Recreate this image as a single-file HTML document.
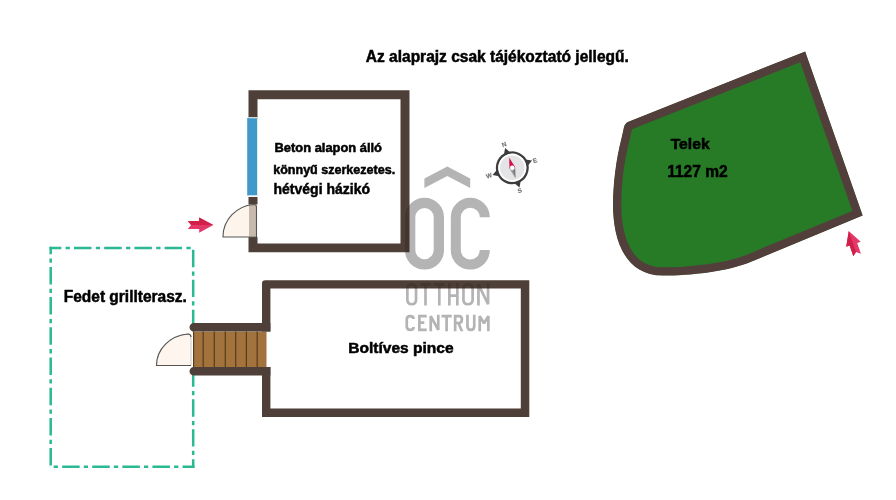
<!DOCTYPE html>
<html><head><meta charset="utf-8">
<style>
html,body{margin:0;padding:0;background:#fff;width:896px;height:500px;overflow:hidden}
svg{display:block;will-change:transform}
text{font-family:"Liberation Sans",sans-serif;font-weight:bold;fill:#000;stroke:#000;stroke-width:0.5px}
</style></head>
<body>
<svg width="896" height="500" viewBox="0 0 896 500">
<defs>
<clipPath id="telekclip"><path id="telekp" d="M621.8,137 L624,127 Q625.2,122.9 629,121.5 L805.2,51.4 L862.7,215.5 L750.6,262 C727.4,271.6 690.2,275.6 662.9,275.6 C623.1,275.6 613,236.4 613,205 C613,185 615.8,160 621.8,137 Z"/></clipPath>
</defs>

<!-- title -->
<text x="365.8" y="62.2" font-size="16" textLength="263" lengthAdjust="spacingAndGlyphs">Az alaprajz csak tájékoztató jellegű.</text>

<g opacity="0.17" fill="none" stroke="#000">
<polygon points="424.4,187.9 424.4,178.5 447.3,166.5 470.2,178.5 470.2,187.9 447.3,176" fill="#000" stroke="none"/>
<rect x="410.15" y="202.95" width="28.7" height="61.5" rx="14.35" stroke-width="10.3"/>
<path d="M484.8,217.3 A14.5,14.5 0 0 0 455.8,217.3 V250.1 A14.5,14.5 0 0 0 484.8,250.1" stroke-width="10"/>
<g stroke-width="2.7" stroke-miterlimit="1.5">
<path d="M407.35,289 C407.35,285.9 409,284.35 411.7,284.35 C414.4,284.35 416.05,285.9 416.05,289 V299.8 C416.05,302.9 414.4,304.25 411.7,304.25 C409,304.25 407.35,302.9 407.35,299.8 Z"/>
<path d="M420.5,284.35 H430.5 M425.5,284.35 V305.6"/>
<path d="M434.3,284.35 H444.3 M439.3,284.35 V305.6"/>
<path d="M449.35,283 V305.6 M457.35,283 V305.6 M449.35,295.6 H457.35"/>
<path d="M463.45,289 C463.45,285.9 465.1,284.35 467.8,284.35 C470.5,284.35 472.65,285.9 472.65,289 V299.8 C472.65,302.9 470.5,304.25 467.8,304.25 C465.1,304.25 463.45,302.9 463.45,299.8 Z"/>
<path d="M478.45,305.6 V284.35 L488.05,304.25 V283"/>
<path d="M413.6,319 C413.6,317 412,316.1 410.2,316.1 C408.3,316.1 406.75,317.3 406.75,319.8 V326.2 C406.75,328.7 408.3,329.95 410.2,329.95 C412,329.95 413.6,329 413.6,327"/>
<path d="M426.7,316.1 H419.35 V329.95 H426.7 M419.35,322.7 H424.3"/>
<path d="M430.75,331.3 V316.1 L438.25,329.95 V314.75"/>
<path d="M441.5,316.1 H451.7 M446.6,316.1 V331.3"/>
<path d="M455.15,331.3 V316.1 H459 C461.2,316.1 461.9,317.6 461.9,319.6 C461.9,321.6 461,323 459,323 H455.15"/>
<polygon points="457.2,323.5 460.1,323.5 463.4,331.3 460.5,331.3" fill="#000" stroke="none"/>
<path d="M467.45,314.75 V326 C467.45,328.6 468.8,329.95 470.85,329.95 C472.9,329.95 474.25,328.6 474.25,326 V314.75"/>
<path d="M479.75,331.3 V316.1 L484.05,323.3 L488.35,316.1 V331.3"/>
</g>
</g>

<!-- house walls -->
<path fill="#4e4038" d="M248.5,90.2 H409.5 V252.3 H248.5 V237 H257.5 V243.5 H400.5 V99.2 H257.5 V118.2 H248.5 Z M248.5,196.8 H257.5 V204.4 H248.5 Z"/>
<!-- window -->
<rect x="247.2" y="118" width="10" height="77.5" fill="#4099c9"/>
<!-- door house -->
<rect x="248.5" y="195.6" width="9" height="1.2" fill="#fff"/>
<rect x="248.5" y="117.2" width="9" height="1" fill="#fff"/>
<path d="M256.5,237 L223,237 A33.5,32.5 0 0 1 253.5,204.5 Q256.5,204.6 256.5,207 Z" fill="#fdf4ec"/>
<rect x="249" y="205" width="7.5" height="31.5" fill="#c8b9ad"/>
<path d="M256.5,237 L223,237 A33.5,32.5 0 0 1 253.5,204.5 Q256.5,204.6 256.5,207 Z" fill="none" stroke="#555" stroke-width="1.1"/>
<!-- arrow left -->
<g id="arr">
<polygon points="187.8,221.1 199.2,221.1 199.2,217.5 213.3,225 199.2,232.8 199.2,229.1 187.8,229.1 191.1,225" fill="#e3386a"/>
<polygon points="187.8,221.1 199.2,221.1 199.2,217.5 213.3,225 191.1,225" fill="#d21f4a"/>
</g>

<!-- telek -->
<path d="M621.8,137 L624,127 Q625.2,122.9 629,121.5 L805.2,51.4 L862.7,215.5 L750.6,262 C727.4,271.6 690.2,275.6 662.9,275.6 C623.1,275.6 613,236.4 613,205 C613,185 615.8,160 621.8,137 Z" fill="#287b26" stroke="#523f3b" stroke-width="16.5" clip-path="url(#telekclip)"/>
<text x="670.7" y="148.6" font-size="15.3" textLength="39" lengthAdjust="spacingAndGlyphs">Telek</text>
<text x="667.2" y="177.3" font-size="16" textLength="60.5" lengthAdjust="spacingAndGlyphs">1127 m2</text>
<!-- arrow right (rotated) -->
<g transform="translate(852.9,243) rotate(-109) translate(-200.5,-225)">
<polygon points="187.8,221.1 199.2,221.1 199.2,217.5 213.3,225 199.2,232.8 199.2,229.1 187.8,229.1 191.1,225" fill="#e3386a"/>
<polygon points="187.8,221.1 199.2,221.1 199.2,217.5 213.3,225 191.1,225" fill="#d21f4a"/>
</g>

<!-- terrace dashed -->
<g stroke="#2bb993" stroke-width="2.5" fill="none">
<line x1="49.45" y1="248" x2="194.45" y2="248" stroke-dasharray="17.5 4.3 4.3 4.1" stroke-dashoffset="5.65"/>
<line x1="193.2" y1="246.75" x2="193.2" y2="467.95" stroke-dasharray="17.3 4.3 4.2 4.1" stroke-dashoffset="26.8"/>
<line x1="50.7" y1="246.75" x2="50.7" y2="467.95" stroke-dasharray="17.5 4.3 4.3 4.1" stroke-dashoffset="10.05"/>
<line x1="49.45" y1="466.7" x2="194.45" y2="466.7" stroke-dasharray="17.5 4.1 4.3 4.2" stroke-dashoffset="17.4"/>
</g>

<!-- stairs -->
<rect x="190.8" y="331.6" width="2.4" height="35.5" fill="#fff"/>
<rect x="193" y="331.6" width="73.5" height="35.5" fill="#a3733d"/>
<g stroke="#5b3b1a" stroke-width="1.2">
<line x1="193.6" y1="331.6" x2="193.6" y2="367"/>
<line x1="203.2" y1="331.6" x2="203.2" y2="367"/>
<line x1="214.3" y1="331.6" x2="214.3" y2="367"/>
<line x1="225.3" y1="331.6" x2="225.3" y2="367"/>
<line x1="235.7" y1="331.6" x2="235.7" y2="367"/>
<line x1="246.4" y1="331.6" x2="246.4" y2="367"/>
<line x1="257.2" y1="331.6" x2="257.2" y2="367"/>
</g>
<g fill="#4e4038">
<path d="M193.8,323 H270.4 V331.6 H193.8 A4.3,4.3 0 0 1 193.8,323 Z M193.8,367 H270.4 V375.6 H193.8 A4.3,4.3 0 0 1 193.8,367 Z"/>
</g>
<!-- pince walls -->
<g fill="#4e4038">
<path d="M262,331.6 L262,283.5 Q262,280.2 265.3,280.2 L529.3,280.2 L529.3,417 L262,417 L262,367 L270.4,367 L270.4,408.5 L520.8,408.5 L520.8,288.5 L270.4,288.5 L270.4,331.6 Z"/>
</g>
<!-- door terrace -->
<path d="M191,365.5 L156.5,365.5 A34.5,31.5 0 0 1 188,334 Q191,334.2 191,337 Z" fill="#fdf5ee" stroke="#c8c8c8" stroke-width="1"/>
<path d="M191,365.5 L156.5,365.5 A34.5,31.5 0 0 1 188,334 Q191,334.2 191,337" fill="none" stroke="#555" stroke-width="1.1"/>

<text x="274.5" y="152.2" font-size="12.3" textLength="107.5" lengthAdjust="spacingAndGlyphs">Beton alapon álló</text>
<text x="273.2" y="173.5" font-size="12.3" textLength="122" lengthAdjust="spacingAndGlyphs">könnyű szerkezetes.</text>
<text x="273.5" y="193.7" font-size="14.3" textLength="96.5" lengthAdjust="spacingAndGlyphs">hétvégi házikó</text>
<text x="63.8" y="302.3" font-size="16" textLength="123" lengthAdjust="spacingAndGlyphs">Fedet grillterasz.</text>
<text x="348.3" y="352.7" font-size="15" textLength="105.3" lengthAdjust="spacingAndGlyphs">Boltíves pince</text>

<!-- compass -->
<g transform="translate(512.3,167.8) rotate(-20)">
<circle r="15.3" fill="#e4e4e6" stroke="#3d3d3d" stroke-width="2.3"/>
<circle r="13.1" fill="none" stroke="#fff" stroke-width="1.6"/>
<polygon points="-3.5,-15 0,-21 3.5,-15" fill="#3b3b3b"/>
<polygon points="-3.5,15 0,21 3.5,15" fill="#3b3b3b"/>
<polygon points="15,-3.5 21,0 15,3.5" fill="#3b3b3b"/>
<polygon points="-15,-3.5 -21,0 -15,3.5" fill="#3b3b3b"/>
</g>
<g transform="translate(512.3,167.8) rotate(-17)">
<polygon points="0,-10.8 -2.9,0 2.9,0" fill="#d0104a"/>
<polygon points="0,10.8 -2.9,0 2.9,0" fill="#999"/>
<polygon points="0,10.8 0,0 2.9,0" fill="#7a7a7a"/>
<circle r="2.3" fill="#fff"/>
</g>
<g style="stroke:none;fill:#6e6e6e" font-size="6.2" text-anchor="middle">
<text x="0" y="0" style="stroke:#707070;stroke-width:0.15px;fill:#707070" transform="translate(504.9,146.6) rotate(-20)">N</text>
<text x="0" y="0" style="stroke:#707070;stroke-width:0.15px;fill:#707070" transform="translate(535.6,162.6) rotate(-20)">E</text>
<text x="0" y="0" style="stroke:#707070;stroke-width:0.15px;fill:#707070" transform="translate(520.5,192.5) rotate(-20)">S</text>
<text x="0" y="0" style="stroke:#707070;stroke-width:0.15px;fill:#707070" transform="translate(489.8,177.8) rotate(-20)">W</text>
</g>

<g opacity="0.15" fill="none" stroke="#000">
<polygon points="424.4,187.9 424.4,178.5 447.3,166.5 470.2,178.5 470.2,187.9 447.3,176" fill="#000" stroke="none"/>
<rect x="410.15" y="202.95" width="28.7" height="61.5" rx="14.35" stroke-width="10.3"/>
<path d="M484.8,217.3 A14.5,14.5 0 0 0 455.8,217.3 V250.1 A14.5,14.5 0 0 0 484.8,250.1" stroke-width="10"/>
<g stroke-width="2.7" stroke-miterlimit="1.5">
<path d="M407.35,289 C407.35,285.9 409,284.35 411.7,284.35 C414.4,284.35 416.05,285.9 416.05,289 V299.8 C416.05,302.9 414.4,304.25 411.7,304.25 C409,304.25 407.35,302.9 407.35,299.8 Z"/>
<path d="M420.5,284.35 H430.5 M425.5,284.35 V305.6"/>
<path d="M434.3,284.35 H444.3 M439.3,284.35 V305.6"/>
<path d="M449.35,283 V305.6 M457.35,283 V305.6 M449.35,295.6 H457.35"/>
<path d="M463.45,289 C463.45,285.9 465.1,284.35 467.8,284.35 C470.5,284.35 472.65,285.9 472.65,289 V299.8 C472.65,302.9 470.5,304.25 467.8,304.25 C465.1,304.25 463.45,302.9 463.45,299.8 Z"/>
<path d="M478.45,305.6 V284.35 L488.05,304.25 V283"/>
<path d="M413.6,319 C413.6,317 412,316.1 410.2,316.1 C408.3,316.1 406.75,317.3 406.75,319.8 V326.2 C406.75,328.7 408.3,329.95 410.2,329.95 C412,329.95 413.6,329 413.6,327"/>
<path d="M426.7,316.1 H419.35 V329.95 H426.7 M419.35,322.7 H424.3"/>
<path d="M430.75,331.3 V316.1 L438.25,329.95 V314.75"/>
<path d="M441.5,316.1 H451.7 M446.6,316.1 V331.3"/>
<path d="M455.15,331.3 V316.1 H459 C461.2,316.1 461.9,317.6 461.9,319.6 C461.9,321.6 461,323 459,323 H455.15"/>
<polygon points="457.2,323.5 460.1,323.5 463.4,331.3 460.5,331.3" fill="#000" stroke="none"/>
<path d="M467.45,314.75 V326 C467.45,328.6 468.8,329.95 470.85,329.95 C472.9,329.95 474.25,328.6 474.25,326 V314.75"/>
<path d="M479.75,331.3 V316.1 L484.05,323.3 L488.35,316.1 V331.3"/>
</g>
</g>

</svg>
</body></html>
